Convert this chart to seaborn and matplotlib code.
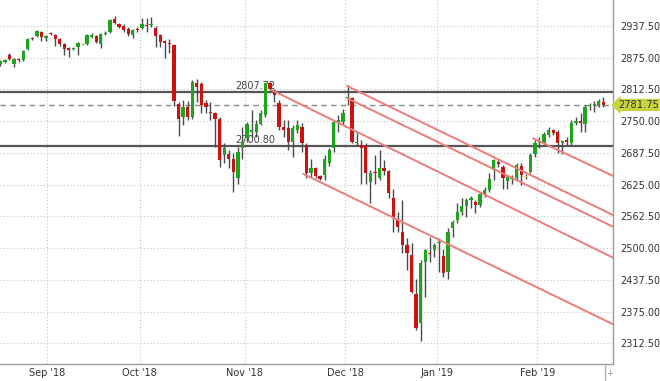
import numpy as np
import pandas as pd
import matplotlib
matplotlib.use("Agg")
import matplotlib.pyplot as plt
import matplotlib.transforms as mtransforms
from matplotlib.lines import Line2D
import seaborn as sns

# ---------------- data ----------------
opens = [2862, 2866, 2881, 2862, 2873, 2870, 2892, 2914, 2917, 2925,
         2914, 2924, 2919, 2911, 2901, 2893, 2891, 2896, 2901, 2901,
         2916, 2917, 2901, 2921, 2926, 2951, 2941, 2937, 2932, 2919,
         2932, 2934, 2939, 2939, 2934, 2919, 2908, 2903, 2899, 2783,
         2758, 2778, 2757, 2824, 2823, 2785, 2768, 2765, 2755, 2683,
         2685, 2676, 2637, 2696, 2716, 2729, 2729, 2745, 2762, 2824,
         2811, 2785, 2739, 2736, 2709, 2732, 2739, 2703, 2648, 2657,
         2642, 2644, 2668, 2696, 2747, 2748, 2795, 2795, 2706, 2703,
         2701, 2630, 2650, 2637, 2658, 2652, 2598, 2558, 2532, 2506,
         2486, 2409, 2352, 2473, 2491, 2496, 2510, 2484, 2453, 2539,
         2555, 2571, 2583, 2594, 2591, 2585, 2606, 2614, 2653, 2670,
         2659, 2632, 2636, 2637, 2661, 2640, 2650, 2685, 2706, 2706,
         2722, 2732, 2729, 2707, 2713, 2706, 2747, 2750, 2744, 2779,
         2781, 2781, 2788]
highs = [2870, 2872, 2884, 2874, 2875, 2890, 2913, 2916, 2929, 2927,
         2920, 2926, 2921, 2913, 2903, 2895, 2896, 2906, 2903, 2921,
         2923, 2919, 2923, 2927, 2950, 2956, 2943, 2941, 2935, 2931,
         2935, 2952, 2952, 2955, 2937, 2921, 2910, 2911, 2901, 2788,
         2791, 2790, 2830, 2832, 2826, 2791, 2788, 2768, 2758, 2707,
         2693, 2687, 2699, 2739, 2748, 2772, 2752, 2772, 2825, 2827,
         2814, 2791, 2752, 2752, 2742, 2752, 2746, 2707, 2676, 2660,
         2644, 2683, 2696, 2752, 2762, 2773, 2821, 2798, 2726, 2713,
         2706, 2653, 2683, 2693, 2673, 2653, 2617, 2571, 2594, 2519,
         2509, 2440, 2476, 2499, 2522, 2509, 2519, 2499, 2539, 2556,
         2588, 2598, 2598, 2602, 2594, 2611, 2621, 2647, 2676, 2673,
         2663, 2644, 2644, 2667, 2667, 2646, 2687, 2713, 2719, 2729,
         2739, 2735, 2732, 2713, 2719, 2752, 2758, 2765, 2781, 2786,
         2790, 2793, 2798]
lows = [2858, 2864, 2870, 2856, 2867, 2868, 2890, 2909, 2915, 2907,
        2907, 2919, 2897, 2897, 2880, 2876, 2889, 2880, 2899, 2899,
        2913, 2903, 2893, 2919, 2924, 2941, 2933, 2925, 2918, 2914,
        2926, 2931, 2925, 2936, 2896, 2896, 2875, 2883, 2779, 2720,
        2742, 2752, 2754, 2788, 2766, 2766, 2752, 2699, 2660, 2667,
        2657, 2610, 2627, 2676, 2709, 2719, 2719, 2742, 2758, 2811,
        2788, 2732, 2719, 2693, 2680, 2726, 2689, 2637, 2640, 2637,
        2634, 2634, 2661, 2689, 2729, 2745, 2781, 2706, 2703, 2627,
        2627, 2588, 2627, 2634, 2644, 2598, 2532, 2532, 2490, 2457,
        2411, 2339, 2317, 2404, 2473, 2483, 2453, 2443, 2440, 2522,
        2549, 2565, 2562, 2578, 2568, 2581, 2601, 2611, 2634, 2660,
        2617, 2617, 2626, 2634, 2624, 2636, 2647, 2680, 2696, 2703,
        2719, 2722, 2687, 2686, 2703, 2703, 2742, 2729, 2729, 2772,
        2768, 2778, 2778]
closes = [2868, 2870, 2873, 2872, 2870, 2888, 2911, 2911, 2927, 2915,
          2917, 2921, 2911, 2901, 2891, 2890, 2894, 2904, 2901, 2919,
          2920, 2905, 2921, 2923, 2949, 2943, 2936, 2930, 2922, 2929,
          2930, 2941, 2938, 2941, 2918, 2906, 2904, 2901, 2790, 2755,
          2777, 2757, 2827, 2818, 2781, 2777, 2766, 2755, 2673, 2696,
          2676, 2650, 2689, 2709, 2745, 2732, 2745, 2766, 2824, 2814,
          2801, 2739, 2732, 2709, 2736, 2742, 2707, 2647, 2657, 2642,
          2635, 2676, 2693, 2748, 2753, 2765, 2798, 2709, 2709, 2696,
          2647, 2648, 2648, 2657, 2652, 2608, 2562, 2542, 2506, 2490,
          2414, 2342, 2471, 2496, 2488, 2506, 2511, 2450, 2532, 2552,
          2571, 2583, 2594, 2598, 2585, 2606, 2615, 2635, 2673, 2665,
          2637, 2640, 2638, 2663, 2644, 2640, 2683, 2706, 2709, 2724,
          2732, 2727, 2706, 2711, 2709, 2747, 2750, 2747, 2778, 2781,
          2783, 2790, 2781.75]

month_labels = ["Sep '18", "Oct '18", "Nov '18", "Dec '18", "Jan '19", "Feb '19"]
month_pos = [10.3, 30.5, 53.5, 75.5, 95.5, 117.5]
price_ticks = [2312.5, 2375.0, 2437.5, 2500.0, 2562.5, 2625.0, 2687.5,
               2750.0, 2812.5, 2875.0, 2937.5]

level_values = [2807.72, 2700.80]
level_label_pos = 51.4

chan_x0 = [59.4, 75.9, 75.9, 66.3, 116.6]
chan_y0 = [2811, 2819, 2795, 2646, 2716]
chan_x1 = [134.1, 134.1, 134.1, 134.1, 134.1]
chan_y1 = [2481, 2565, 2542, 2350, 2642]

last_price = closes[-1]

# ---------------- style ----------------
sns.set_theme(style="white")
plt.rcParams["font.family"] = ["DejaVu Sans"]

df = pd.DataFrame({"o": opens, "h": highs, "l": lows, "c": closes})
df["x"] = np.arange(len(df))

fig = plt.figure(figsize=(6.6, 3.81), dpi=100)
ax = fig.add_axes([0, 17 / 381, 613 / 660, 364 / 381])
ax.set_xlim(-0.07, 134.1)
ax.set_ylim(2271.7, 2988.3)

# grid
ax.set_xticks(month_pos)
ax.set_xticklabels(month_labels)
ax.set_yticks(price_ticks)
ax.set_yticklabels([f"{v:.2f}" for v in price_ticks])
ax.grid(True, color="#c4c4c4", linestyle=(0, (1, 2)), linewidth=0.8)
ax.set_axisbelow(True)
ax.yaxis.tick_right()
ax.tick_params(axis="y", length=0, pad=5, labelsize=7, labelcolor="#333333")
ax.tick_params(axis="x", length=0, pad=3, labelsize=7, labelcolor="#333333")
for s in ["top", "left"]:
    ax.spines[s].set_visible(False)
for s in ["right", "bottom"]:
    ax.spines[s].set_color("#9a9a9a")
    ax.spines[s].set_linewidth(1)

# horizontal levels
for v in level_values:
    ax.axhline(v, color="#555555", lw=1.6, zorder=1.5)
    ax.text(level_label_pos, v + 11.5, f"{v:.2f}", fontsize=7, color="#444444",
            va="center", ha="left", zorder=1.6)
ax.axhline(last_price, color="#8a8a8a", lw=1, linestyle=(0, (4, 3)), zorder=1.5)

# candles
up = df["c"] > df["o"]
dn = df["c"] < df["o"]
dj = df["c"] == df["o"]
ax.vlines(df["x"], df["l"], df["h"], color="#4a4a4a", lw=1, zorder=3)
body_h = (df["c"] - df["o"]).abs().clip(lower=1.8)
body_b = df[["o", "c"]].min(axis=1)
ax.bar(df["x"][up], body_h[up], bottom=body_b[up], width=0.72, color="#1ea51e", zorder=3.5, linewidth=0)
ax.bar(df["x"][dn], body_h[dn], bottom=body_b[dn], width=0.72, color="#cc1111", zorder=3.5, linewidth=0)
ax.bar(df["x"][dj], body_h[dj], bottom=body_b[dj] - 0.9, width=0.72, color="#e2cf2a", zorder=3.5, linewidth=0)

# channel lines
rows = []
for i in range(len(chan_x0)):
    rows.append({"line": i, "x": chan_x0[i], "y": chan_y0[i]})
    rows.append({"line": i, "x": chan_x1[i], "y": chan_y1[i]})
chan = pd.DataFrame(rows)
sns.lineplot(data=chan, x="x", y="y", units="line", estimator=None, color="#ee7c7c",
             lw=1.4, ax=ax, zorder=4, legend=False)
ax.set_xlabel("")
ax.set_ylabel("")

# last price tag
trans = mtransforms.blended_transform_factory(ax.transAxes, ax.transData)
ax.annotate(f"{last_price:.2f}", xy=(1.0, last_price), xycoords=trans,
            xytext=(3.5, 0), textcoords="offset points", fontsize=7.1, color="#333333",
            va="center", ha="left", annotation_clip=False,
            bbox=dict(boxstyle="larrow,pad=0.12", fc="#c9d33c", ec="none"))

# small navigator marks at the bottom right
fig.add_artist(Line2D([605 / 660, 605 / 660], [1 - 380 / 381, 1 - 365 / 381], color="#b0b0b0", lw=1))
fig.text(610 / 660, 1 - 373 / 381, "+", fontsize=6, color="#888888", ha="center", va="center")

fig.savefig("out.png", dpi=100)
